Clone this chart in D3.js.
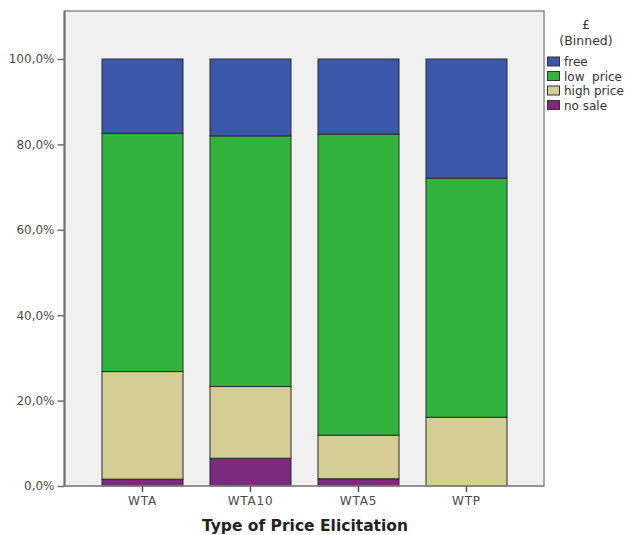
<!DOCTYPE html>
<html><head><meta charset="utf-8">
<script src="https://cdn.jsdelivr.net/npm/d3@7"></script>
<style>body{margin:0;background:#fff;}svg{display:block;font-family:"DejaVu Sans",sans-serif;}</style>
</head><body>
<svg id="c" width="625" height="535"></svg>
<script>
const categories = ["WTA", "WTA10", "WTA5", "WTP"];
const seriesNames = ["no sale", "high price", "low price", "free"];
const noSale   = [1.6, 6.5, 1.7, 0.0];
const highPrice = [25.2, 16.8, 10.2, 16.1];
const lowPrice  = [55.8, 58.7, 70.5, 56.0];
const free      = [17.4, 18.0, 17.6, 27.9];
const yTicks = [0, 20, 40, 60, 80, 100];
const colors = {"free":"#3a57aa","low price":"#31b33d","high price":"#d4ce95","no sale":"#7a2b7e"};
const legendOrder = ["free", "low  price", "high price", "no sale"];
const legendKeys = ["free", "low price", "high price", "no sale"];

const rows = categories.map((c,i)=>({cat:c,"no sale":noSale[i],"high price":highPrice[i],"low price":lowPrice[i],"free":free[i]}));
const stack = d3.stack().keys(seriesNames)(rows);

const svg = d3.select("#c");
const frame = {l:64.5, t:11, r:544, b:486};
const x = d3.scaleBand().domain(categories).range([88.5, 520.5]).paddingInner(0.25).paddingOuter(0.125);
const y = d3.scaleLinear().domain([0,100]).range([486, 59]);

svg.append("rect").attr("x",frame.l).attr("y",frame.t).attr("width",frame.r-frame.l).attr("height",frame.b-frame.t)
  .attr("fill","#f0f0f0").attr("stroke","#8c8c8c").attr("stroke-width",1.5);

stack.forEach(s=>{
  svg.append("g").selectAll("rect").data(s).join("rect")
    .attr("x",d=>x(d.data.cat)).attr("width",x.bandwidth())
    .attr("y",d=>y(d[1])).attr("height",d=>y(d[0])-y(d[1]))
    .attr("fill",colors[s.key]).attr("stroke","#2b2b2b").attr("stroke-width",1)
    .attr("display",d=>d[1]-d[0]>0?null:"none");
});

// y axis
const ya = svg.append("g").attr("transform",`translate(${frame.l},0)`)
  .call(d3.axisLeft(y).tickValues(yTicks).tickSize(7).tickPadding(3).tickFormat(d=>d.toFixed(1).replace(".",",")+"%"));
ya.select(".domain").attr("stroke","#6e6e6e").attr("stroke-width",2).attr("d",`M0,${frame.t}V${frame.b}`);
ya.selectAll(".tick line").attr("stroke","#6e6e6e").attr("stroke-width",1.5);
ya.selectAll("text").attr("fill","#4a4a4a").style("font-size","12px").style("font-family","'DejaVu Sans',sans-serif");

// x axis
const xa = svg.append("g").attr("transform",`translate(0,${frame.b})`)
  .call(d3.axisBottom(x).tickSize(6).tickPadding(4));
xa.select(".domain").attr("stroke","#8c8c8c").attr("stroke-width",1.5).attr("d",`M${frame.l},0H${frame.r}`);
xa.selectAll(".tick line").attr("stroke","#555").attr("stroke-width",1.5);
xa.selectAll("text").attr("fill","#4a4a4a").style("font-size","12px").style("letter-spacing","0.8px").style("font-family","'DejaVu Sans',sans-serif");

svg.append("text").attr("x",305).attr("y",531).attr("text-anchor","middle")
  .style("font-size","15.5px").style("font-weight","bold").attr("fill","#222").text("Type of Price Elicitation");

// legend
svg.append("text").attr("x",586).attr("y",29).attr("text-anchor","middle").style("font-size","12.5px").attr("fill","#333").text("£");
svg.append("text").attr("x",586).attr("y",45).attr("text-anchor","middle").style("font-size","12.5px").attr("fill","#333").text("(Binned)");
const lg = svg.append("g");
legendKeys.forEach((k,i)=>{
  const yy = 57 + i*14.5;
  lg.append("rect").attr("x",547.5).attr("y",yy).attr("width",12).attr("height",9)
    .attr("fill",colors[k]).attr("stroke","#333").attr("stroke-width",1);
  lg.append("text").attr("x",564).attr("y",yy+9).style("font-size","12px").attr("fill","#333")
    .attr("xml:space","preserve").text(legendOrder[i]);
});
</script>
</body></html>
